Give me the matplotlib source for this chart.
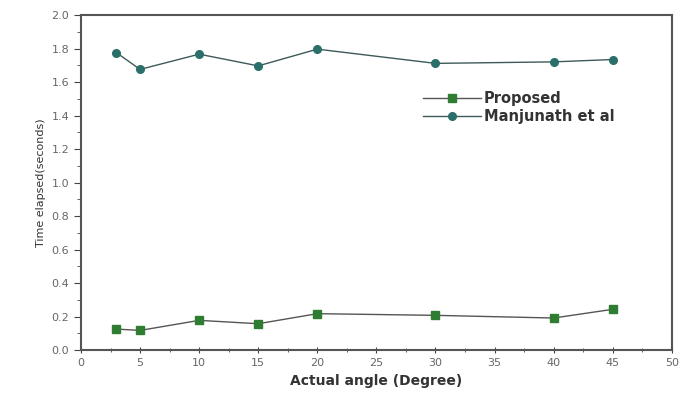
import matplotlib.pyplot as plt
from matplotlib.ticker import MultipleLocator, FormatStrFormatter

angles = [3, 5, 10, 15, 20, 30, 40, 45]
proposed = [0.125, 0.117, 0.177, 0.157, 0.217, 0.207, 0.191, 0.243]
manjunath = [1.776, 1.676, 1.767, 1.697, 1.797, 1.712, 1.721, 1.735]

fig = plt.figure(figsize=(6.94, 3.99), dpi=100)
ax = fig.add_axes([0.1167, 0.1228, 0.8513, 0.8392])

ax.plot(angles, proposed, color='#555555', lw=1.0, marker='s', ms=5.5,
        mfc='#2e7d32', mec='#2e7d32', label='Proposed')
ax.plot(angles, manjunath, color='#3d5a58', lw=1.0, marker='o', ms=5.5,
        mfc='#2a6f6a', mec='#2a6f6a', label='Manjunath et al')

ax.set_xlim(0, 50)
ax.set_ylim(0, 2.0)
ax.xaxis.set_major_locator(MultipleLocator(5))
ax.xaxis.set_minor_locator(MultipleLocator(2.5))
ax.yaxis.set_major_locator(MultipleLocator(0.2))
ax.yaxis.set_minor_locator(MultipleLocator(0.1))
ax.yaxis.set_major_formatter(FormatStrFormatter('%.1f'))
ax.tick_params(which='both', direction='out', colors='#444444', labelcolor='#666666', labelsize=8)
ax.tick_params(axis='x', which='both', direction='inout')
ax.tick_params(which='major', length=5)
ax.tick_params(which='minor', length=3)
for s in ax.spines.values():
    s.set_color('#555555')
    s.set_linewidth(1.5)

ax.set_xlabel('Actual angle (Degree)', fontsize=10, fontweight='bold', color='#333333')
ax.set_ylabel('Time elapsed(seconds)', fontsize=8, color='#333333')

fig.legend(loc='upper left', bbox_to_anchor=(0.59, 0.805), frameon=False,
           prop={'weight': 'bold', 'size': 10.5}, handlelength=4,
           handletextpad=0.2, labelspacing=0.2, labelcolor='#333333')

fig.savefig('out.png')
